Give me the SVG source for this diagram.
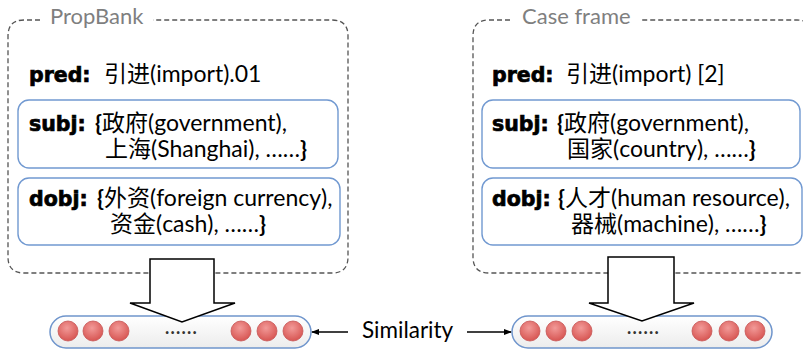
<svg xmlns="http://www.w3.org/2000/svg" width="803" height="353" viewBox="0 0 803 353">
  <style>
    .frame { fill: none; stroke: #555; stroke-width: 1.3; stroke-dasharray: 5 3; }
    .title { font-family: Lato, "Liberation Sans", sans-serif; font-size: 22px; fill: #7f7f7f; }
    .slot { fill: #fff; stroke: #7199d1; stroke-width: 1.4; }
    .t { font-family: Lato, "Liberation Sans", "Noto Sans CJK SC", sans-serif; font-size: 23px; fill: #000; }
    .k { font-family: "DejaVu Sans", sans-serif; font-weight: bold; font-size: 20.5px; stroke: #000; stroke-width: 0.7; }
    .b { font-weight: bold; }
    .big { fill: #fff; stroke: #000; stroke-width: 1.5; stroke-linejoin: miter; }
    .vec { fill: url(#vecFill); stroke: #6f95cc; stroke-width: 1.5; }
    .unit { fill: url(#unitFill); stroke: #c65555; stroke-width: 0.8; }
    .dots { font-family: Lato, "Liberation Sans", sans-serif; font-size: 18px; font-weight: bold; fill: #333; letter-spacing: 1.2px; }
    .link { stroke: #000; stroke-width: 1.3; fill: none; marker-end: url(#tip); }
  </style>
  <defs>
    <linearGradient id="vecFill" x1="0" y1="0" x2="0" y2="1">
      <stop offset="0" stop-color="#ffffff"/>
      <stop offset="1" stop-color="#ececec"/>
    </linearGradient>
    <radialGradient id="unitFill" cx="0.45" cy="0.35" r="0.7">
      <stop offset="0" stop-color="#f29a98"/>
      <stop offset="1" stop-color="#d5504d"/>
    </radialGradient>
    <marker id="tip" viewBox="0 0 10 10" refX="9" refY="5" markerWidth="8" markerHeight="8" markerUnits="userSpaceOnUse" orient="auto">
      <path d="M0,1 L10,5 L0,9 Z" fill="#000"/>
    </marker>
  </defs>

  <!-- PropBank frame -->
  <g id="propbank">
    <path class="frame" d="M40,20 L24,20 Q8,20 8,36 L8,257 Q8,273 24,273 L332,273 Q348,273 348,257 L348,36 Q348,20 332,20 L153,20"/>
    <text class="title" x="50" y="24">PropBank</text>
    <text class="t" x="29" y="82"><tspan class="k">pred:</tspan><tspan x="104">引进(import).01</tspan></text>
  </g>
  <g id="propbank-subj">
    <rect class="slot" x="18" y="100" width="320" height="68" rx="11"/>
    <text class="t" x="29" y="131"><tspan class="k">subj:</tspan><tspan x="95" class="b">{</tspan>政府(government),</text>
    <text class="t" x="105" y="157">上海(Shanghai), ……<tspan class="b">}</tspan></text>
  </g>
  <g id="propbank-dobj">
    <rect class="slot" x="18" y="178" width="322" height="67" rx="11"/>
    <text class="t" x="29" y="206"><tspan class="k">dobj:</tspan><tspan x="97" class="b">{</tspan>外资(foreign currency),</text>
    <text class="t" x="110" y="232">资金(cash), ……<tspan class="b">}</tspan></text>
  </g>

  <!-- Case frame -->
  <g id="caseframe">
    <path class="frame" d="M510,20 L489,20 Q473,20 473,36 L473,257 Q473,273 489,273 L797,273 Q813,273 813,257 L813,36 Q813,20 797,20 L640,20"/>
    <text class="title" x="522" y="24">Case frame</text>
    <text class="t" x="492" y="82"><tspan class="k">pred:</tspan><tspan x="566">引进(import) [2]</tspan></text>
  </g>
  <g id="caseframe-subj">
    <rect class="slot" x="482" y="100" width="318" height="68" rx="11"/>
    <text class="t" x="492" y="131"><tspan class="k">subj:</tspan><tspan x="557" class="b">{</tspan>政府(government),</text>
    <text class="t" x="567" y="157">国家(country), ……<tspan class="b">}</tspan></text>
  </g>
  <g id="caseframe-dobj">
    <rect class="slot" x="482" y="178" width="320" height="67" rx="11"/>
    <text class="t" x="492" y="206"><tspan class="k">dobj:</tspan><tspan x="558" class="b">{</tspan>人才(human resource),</text>
    <text class="t" x="571" y="232">器械(machine), ……<tspan class="b">}</tspan></text>
  </g>

  <!-- embedding vectors -->
  <g id="vector-left">
    <rect class="vec" x="50" y="316" width="261" height="32" rx="16"/>
    <circle class="unit" cx="68" cy="331" r="10"/>
    <circle class="unit" cx="93" cy="331" r="10"/>
    <circle class="unit" cx="119" cy="331" r="10"/>
    <text class="dots" x="165" y="334">......</text>
    <circle class="unit" cx="241" cy="331" r="10"/>
    <circle class="unit" cx="267" cy="331" r="10"/>
    <circle class="unit" cx="293" cy="331" r="10"/>
  </g>
  <g id="vector-right">
    <rect class="vec" x="512" y="316" width="260" height="32" rx="16"/>
    <circle class="unit" cx="530" cy="331" r="10"/>
    <circle class="unit" cx="556" cy="331" r="10"/>
    <circle class="unit" cx="582" cy="331" r="10"/>
    <text class="dots" x="627" y="334">......</text>
    <circle class="unit" cx="702" cy="331" r="10"/>
    <circle class="unit" cx="729" cy="331" r="10"/>
    <circle class="unit" cx="755" cy="331" r="10"/>
  </g>

  <g id="similarity">
    <text class="t" x="362" y="338" style="font-size:22.5px">Similarity</text>
  </g>

  <!-- connectors -->
  <g id="connectors">
    <path class="big" d="M150,259 L214,259 L214,303 L235,303 L182,322 L130,303 L150,303 Z"/>
    <path class="big" d="M608,257 L674,257 L674,303 L694,303 L642,321 L589,303 L608,303 Z"/>
    <path class="link" d="M348,332 L312,332"/>
    <path class="link" d="M467,332 L511,332"/>
  </g>
</svg>
